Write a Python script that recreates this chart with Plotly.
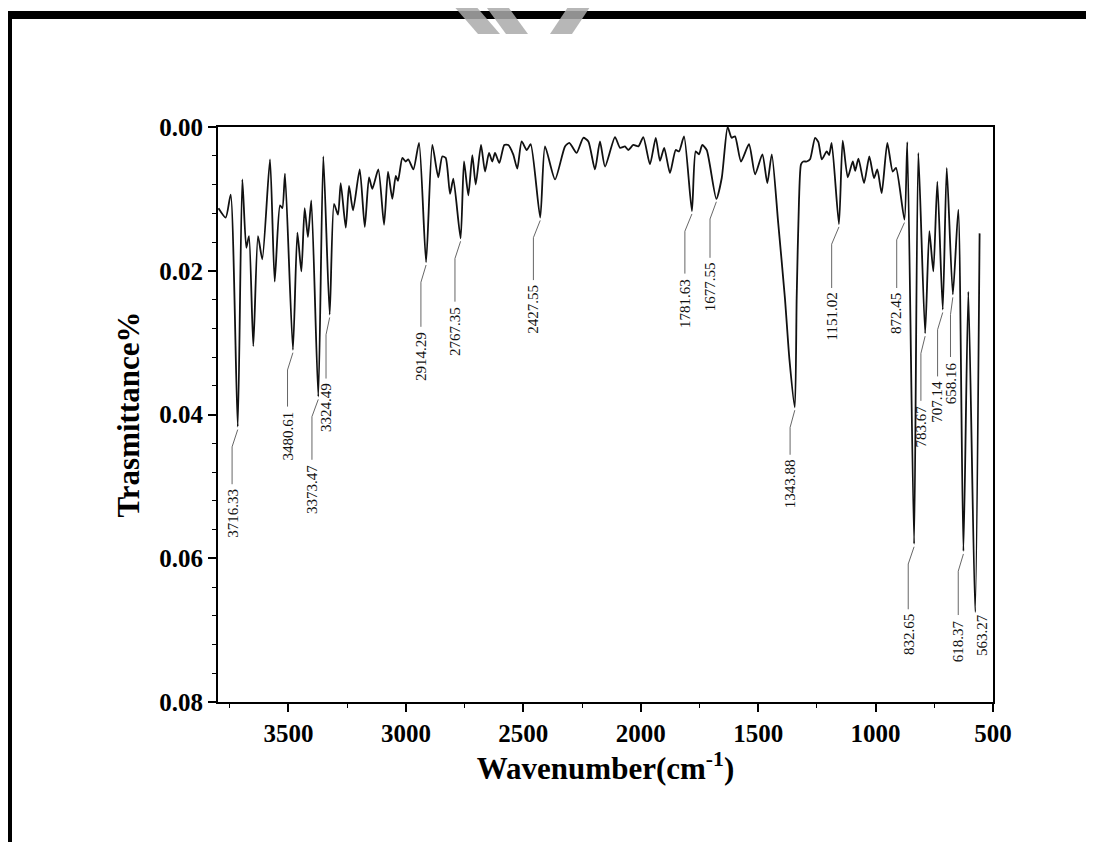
import plotly.graph_objects as go

# ---------------- data ----------------
wavenumber = [3798, 3767, 3746, 3716, 3696.5, 3679.5, 3668, 3649.7, 3629.7, 3611.4,
              3578.6, 3558.6, 3536, 3526, 3514.7, 3481, 3462, 3445, 3431, 3417,
              3402.7, 3373, 3351.6, 3324.5, 3306, 3289, 3277.5, 3256, 3242, 3225,
              3196.6, 3175, 3157, 3143, 3117.4, 3093, 3076, 3057.8, 3043, 3033.6,
              3015, 3000.8, 2989.7, 2968, 2944, 2914, 2887.5, 2862, 2845, 2830.5,
              2812, 2798, 2767, 2752.5, 2734, 2717, 2702.7, 2680, 2663, 2646,
              2632, 2620.5, 2602, 2581, 2564, 2543, 2525.6, 2507, 2485.5, 2468.5,
              2428, 2407.6, 2365, 2322.5, 2304, 2273, 2244.5, 2223, 2195, 2173.5,
              2152, 2109.6, 2088, 2067, 2053, 2031.6, 2010, 1989, 1960.6, 1936,
              1918, 1900, 1875.5, 1851, 1837, 1815.6, 1782, 1766, 1752, 1738,
              1719, 1678, 1655, 1630, 1613, 1598.5, 1573, 1539, 1513, 1482,
              1461, 1442, 1415, 1386, 1366.6, 1344, 1336, 1326, 1317.5, 1307.6,
              1293, 1279, 1257.6, 1243.6, 1229, 1208, 1198, 1187, 1156, 1140,
              1118.5, 1097, 1087, 1073, 1049, 1026.7, 1006.7, 992.6, 974, 950,
              927, 913, 877, 865, 836, 818, 789, 771, 754, 737,
              714, 697, 671, 647.7, 626, 605, 576, 557]
transmittance = [0.0113, 0.0126, 0.0094, 0.0417, 0.0073, 0.0168, 0.0152, 0.0305, 0.0152, 0.0184,
                 0.0045, 0.0215, 0.0109, 0.0113, 0.0065, 0.0310, 0.0147, 0.0201, 0.0113, 0.0153,
                 0.0102, 0.0375, 0.0041, 0.0261, 0.0107, 0.0122, 0.0078, 0.0140, 0.0082, 0.0116,
                 0.0059, 0.0139, 0.0070, 0.0086, 0.0059, 0.0136, 0.0062, 0.0100, 0.0068, 0.0075,
                 0.0043, 0.0048, 0.0045, 0.0059, 0.0022, 0.0188, 0.0025, 0.0070, 0.0041, 0.0043,
                 0.0093, 0.0072, 0.0155, 0.0048, 0.0095, 0.0039, 0.0080, 0.0025, 0.0062, 0.0036,
                 0.0048, 0.0036, 0.0050, 0.0025, 0.0025, 0.0038, 0.0058, 0.0020, 0.0032, 0.0024,
                 0.0126, 0.0027, 0.0073, 0.0027, 0.0022, 0.0036, 0.0015, 0.0020, 0.0059, 0.0020,
                 0.0055, 0.0014, 0.0029, 0.0027, 0.0032, 0.0025, 0.0027, 0.0014, 0.0052, 0.0015,
                 0.0047, 0.0029, 0.0064, 0.0032, 0.0034, 0.0013, 0.0117, 0.0034, 0.0038, 0.0025,
                 0.0032, 0.0100, 0.0071, 0.0000, 0.0015, 0.0013, 0.0048, 0.0024, 0.0066, 0.0038,
                 0.0078, 0.0038, 0.0132, 0.0238, 0.0324, 0.0390, 0.0238, 0.0101, 0.0052, 0.0048,
                 0.0048, 0.0045, 0.0015, 0.0021, 0.0045, 0.0034, 0.0039, 0.0022, 0.0135, 0.0019,
                 0.0070, 0.0048, 0.0061, 0.0044, 0.0078, 0.0041, 0.0071, 0.0059, 0.0092, 0.0022,
                 0.0062, 0.0057, 0.0129, 0.0021, 0.0580, 0.0036, 0.0287, 0.0145, 0.0201, 0.0076,
                 0.0254, 0.0057, 0.0233, 0.0115, 0.0590, 0.0229, 0.0675, 0.0148]

peak_labels = ["3716.33", "3480.61", "3373.47", "3324.49", "2914.29", "2767.35", "2427.55",
               "1781.63", "1677.55", "1343.88", "1151.02", "872.45", "832.65", "783.67",
               "707.14", "658.16", "618.37", "563.27"]
peak_w = [3716, 3481, 3373, 3324.5, 2914, 2767, 2428, 1782, 1678, 1344, 1156, 877, 836, 789,
          714, 671, 626, 576]
peak_v = [0.0417, 0.0310, 0.0375, 0.0261, 0.0188, 0.0155, 0.0126, 0.0117, 0.0100, 0.0390,
          0.0135, 0.0129, 0.0580, 0.0287, 0.0254, 0.0233, 0.0590, 0.0675]
label_w = [3740, 3504, 3400, 3340, 2936, 2791, 2457, 1812, 1705, 1364, 1187, 910, 861, 807,
           736, 681, 648, 548]
label_top = [0.0501, 0.0393, 0.0467, 0.0354, 0.0282, 0.0247, 0.0217, 0.0208, 0.0186, 0.0460,
             0.0228, 0.0228, 0.0675, 0.0385, 0.0351, 0.0324, 0.0683, 0.0675]
label_has_leader = [True] * 17 + [False]

x_range = [3800, 500]
y_range = [0.08, 0.0]

# ---------------- figure ----------------
W, H = 1094, 842
OFF = 8  # page offset of the plot div
ML, MR, MT, MB = 210, 109, 119, 148
PW, PH = W - ML - MR, H - MT - MB


def px(x):  # page pixel -> paper x
    return (x - OFF - ML) / PW


def py(y):  # page pixel -> paper y
    return (H - MB - (y - OFF)) / PH


serif = "Liberation Serif, Times New Roman, serif"

fig = go.Figure()

# leader lines
lx, ly = [], []
for w0, v0, wl, vt, lead in zip(peak_w, peak_v, label_w, label_top, label_has_leader):
    if not lead:
        continue
    lx += [w0, wl, wl, None]
    ly += [v0 + 0.0004, v0 + 0.0028, vt - 0.0004, None]
fig.add_trace(go.Scatter(x=lx, y=ly, mode="lines",
                         line=dict(color="#555555", width=0.9),
                         hoverinfo="skip"))

fig.add_trace(go.Scatter(x=wavenumber, y=transmittance, mode="lines",
                         line=dict(color="#111111", width=1.8, shape="spline", smoothing=0.6),
                         hoverinfo="skip"))

for t, wl, vt in zip(peak_labels, label_w, label_top):
    fig.add_annotation(x=wl, y=vt, text=t, showarrow=False, textangle=-90,
                       xanchor="center", yanchor="top",
                       font=dict(family=serif, size=15, color="#111111"))

axis_common = dict(showline=True, linewidth=2, linecolor="black", mirror=True,
                   showgrid=False, zeroline=False, ticks="outside", ticklen=8,
                   tickwidth=1.6, tickcolor="black",
                   tickfont=dict(family=serif, size=25, color="black", weight="bold"))

fig.update_xaxes(range=x_range, tick0=500, dtick=500,
                 minor=dict(dtick=250, tick0=500, ticks="outside", ticklen=4,
                            tickwidth=1.3, tickcolor="black"),
                 title=dict(text="Wavenumber(cm<sup>-1</sup>)", standoff=10,
                            font=dict(family=serif, size=31, color="black", weight="bold")),
                 **axis_common)
fig.update_yaxes(range=y_range, tick0=0, dtick=0.02, tickformat=".2f",
                 minor=dict(dtick=0.004, tick0=0, ticks="outside", ticklen=4,
                            tickwidth=1.3, tickcolor="black"),
                 title=dict(text="Trasmittance%", standoff=10,
                            font=dict(family=serif, size=31, color="black", weight="bold")),
                 **axis_common)

# outer black frame (top and left edges) of the figure image
fig.add_shape(type="rect", xref="paper", yref="paper", x0=px(4), x1=px(12), y0=py(H + 10), y1=py(11),
              fillcolor="black", line_width=0, layer="above")
fig.add_shape(type="rect", xref="paper", yref="paper", x0=px(4), x1=px(W + 10), y0=py(19), y1=py(11),
              fillcolor="black", line_width=0, layer="above")

# grey watermark fragments at the top
for poly in [[(452, 4), (474, 4), (500, 34), (478, 34)],
             [(484, 4), (506, 4), (528, 34), (506, 34)],
             [(570, 4), (592, 4), (572, 34), (550, 34)]]:
    path = "M " + " L ".join(f"{px(a)},{py(b)}" for a, b in poly) + " Z"
    fig.add_shape(type="path", xref="paper", yref="paper", path=path,
                  fillcolor="rgba(170,170,170,0.85)", line_width=0, layer="above")

fig.update_layout(width=W, height=H, margin=dict(l=ML, r=MR, t=MT, b=MB, autoexpand=False),
                  plot_bgcolor="white", paper_bgcolor="white", showlegend=False)

fig.write_html("out.html")
